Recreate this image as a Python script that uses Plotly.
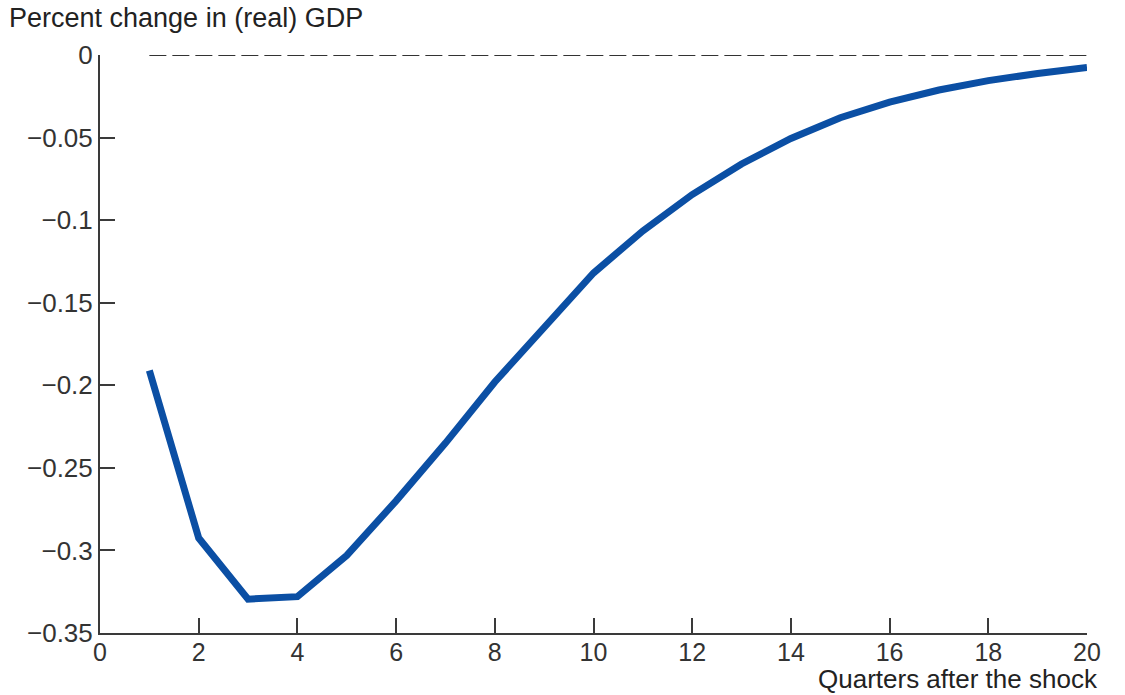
import plotly.graph_objects as go

quarters = list(range(1, 21))
gdp_change = [-0.191, -0.2925, -0.3295, -0.328, -0.303, -0.270, -0.235, -0.198, -0.165,
              -0.132, -0.1065, -0.0845, -0.066, -0.0505, -0.038, -0.0285, -0.0212, -0.0155,
              -0.0112, -0.0075]
zero_x = [1, 20]
zero_y = [0, 0]

y_ticks = [0, -0.05, -0.1, -0.15, -0.2, -0.25, -0.3, -0.35]
y_labels = ["0", "\u22120.05", "\u22120.1", "\u22120.15", "\u22120.2", "\u22120.25", "\u22120.3", "\u22120.35"]
x_ticks = list(range(0, 21, 2))

font_family = "Liberation Sans, Arial, sans-serif"
axis_color = "#3a3a3a"

fig = go.Figure()
fig.add_trace(go.Scatter(x=zero_x, y=zero_y, mode="lines",
                         line=dict(color="#333333", width=2.2, dash="17px,6px"),
                         hoverinfo="skip", showlegend=False))
fig.add_trace(go.Scatter(x=quarters, y=gdp_change, mode="lines",
                         line=dict(color="#0b4fa4", width=7),
                         showlegend=False))

fig.update_layout(
    width=1125, height=695,
    margin=dict(l=100, r=38, t=55, b=62),
    plot_bgcolor="white", paper_bgcolor="white",
    font=dict(family=font_family, size=26, color="#333333"),
    xaxis=dict(range=[0, 20], tickvals=x_ticks, showgrid=False, zeroline=False,
               showline=True, linecolor=axis_color, linewidth=2,
               ticks="inside", ticklen=15, tickwidth=1.5, tickcolor=axis_color,
               ticklabelstandoff=-4,
               tickfont=dict(size=25, color="#333333")),
    yaxis=dict(range=[-0.35, 0], tickvals=y_ticks, ticktext=y_labels, showgrid=False,
               zeroline=False, showline=True, linecolor=axis_color, linewidth=2,
               ticks="inside", ticklen=15, tickwidth=1.5, tickcolor=axis_color,
               tickfont=dict(size=26, color="#333333")),
    annotations=[
        dict(text="Percent change in (real) GDP", xref="paper", yref="paper",
             x=-93/987, y=1 + 37/578, xanchor="left", yanchor="middle",
             showarrow=False, font=dict(size=27, color="#222222")),
        dict(text="Quarters after the shock", xref="paper", yref="paper",
             x=1 + 13/987, y=-46/578, xanchor="right", yanchor="middle",
             showarrow=False, font=dict(size=26, color="#222222")),
    ],
)

fig.write_html("out.html", config={"displayModeBar": False},
               post_script="document.body.style.margin='0';document.body.style.padding='0';")
